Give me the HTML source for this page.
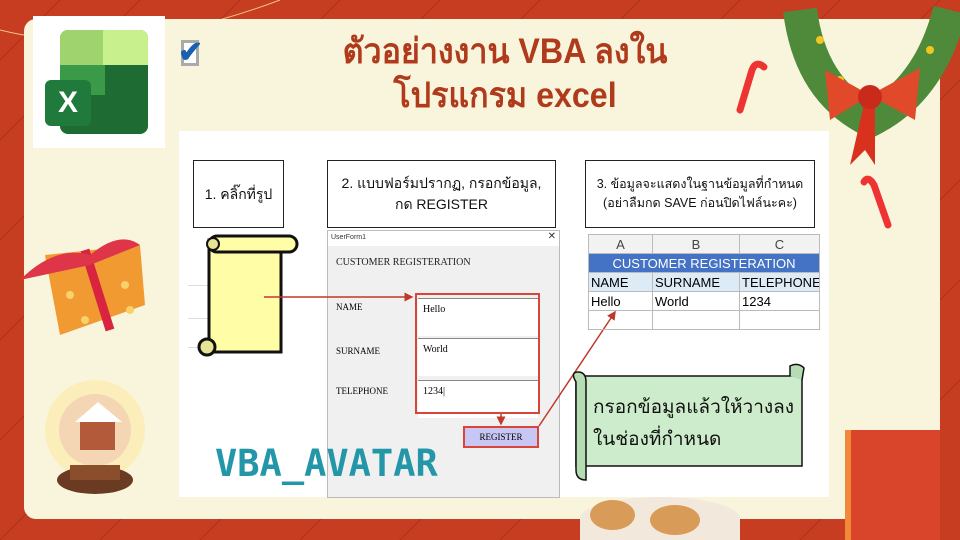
<!DOCTYPE html>
<html><head><meta charset="utf-8"><style>
*{margin:0;padding:0;box-sizing:border-box}
html,body{width:960px;height:540px;overflow:hidden}
body{background:#c63d22;position:relative;font-family:"Liberation Sans","Noto Sans CJK SC",sans-serif}
.a{position:absolute}
.box{position:absolute;background:#fff;border:1.5px solid #222;display:flex;align-items:center;justify-content:center;text-align:center;font-size:14px;color:#111;line-height:1.5}
.serif{font-family:"Liberation Serif","Noto Serif CJK SC",serif}
.inp{position:absolute;left:418px;width:120px;background:#fff;border-top:1px solid #888;font-family:"Liberation Serif",serif;font-size:10px;padding:5px}
table{border-collapse:collapse;position:absolute;left:588px;top:234px;font-size:13px;table-layout:fixed;width:231px}
td{border:1px solid #bbb;height:19px;padding:0 2px;white-space:nowrap;overflow:hidden}
</style></head><body>
<svg class="a" style="left:0;top:0" width="960" height="540">
<g stroke="#a8301a" stroke-width="1.2" opacity=".7">
<line x1="0" y1="60" x2="60" y2="0"/><line x1="0" y1="140" x2="140" y2="0"/><line x1="0" y1="240" x2="240" y2="0"/><line x1="0" y1="340" x2="340" y2="0"/><line x1="0" y1="440" x2="440" y2="0"/><line x1="0" y1="540" x2="540" y2="0"/><line x1="100" y1="540" x2="640" y2="0"/><line x1="200" y1="540" x2="740" y2="0"/><line x1="300" y1="540" x2="840" y2="0"/><line x1="400" y1="540" x2="940" y2="0"/><line x1="500" y1="540" x2="960" y2="80"/><line x1="600" y1="540" x2="960" y2="180"/><line x1="700" y1="540" x2="960" y2="280"/><line x1="800" y1="540" x2="960" y2="380"/>
</g>
<path d="M0 30 Q120 60 280 0" stroke="#f3c77a" fill="none"/>
</svg>
<div class="a" style="left:24px;top:19px;width:916px;height:500px;background:#f9f5dd;border-radius:12px"></div>
<svg class="a" style="left:780px;top:0" width="180" height="170">
<path d="M20 10 Q30 90 90 120 Q150 90 170 10" stroke="#4e8a3a" stroke-width="34" fill="none"/>
<circle cx="40" cy="40" r="4" fill="#f2c520"/><circle cx="150" cy="50" r="4" fill="#f2c520"/><circle cx="60" cy="80" r="4" fill="#f2c520"/>
<path d="M90 95 L45 70 L50 120 Z M90 95 L140 68 L135 120 Z" fill="#e04a2a"/>
<path d="M85 100 L70 165 L85 150 L95 165 L95 100Z" fill="#d8321f"/>
<circle cx="90" cy="97" r="12" fill="#c92a1a"/>
</svg>
<svg class="a" style="left:730px;top:55px" width="40" height="60"><path d="M10 55 L22 15 Q26 5 34 12" stroke="#e33" stroke-width="7" fill="none" stroke-linecap="round"/></svg>
<svg class="a" style="left:860px;top:170px" width="40" height="60"><path d="M28 55 L14 15 Q8 5 4 12" stroke="#e33" stroke-width="7" fill="none" stroke-linecap="round"/></svg>
<div class="a" style="left:845px;top:430px;width:95px;height:110px;background:#d9452a;border-left:6px solid #f08a3a"></div>
<svg class="a" style="left:15px;top:225px" width="135" height="115">
<path d="M30 30 L125 20 L130 80 L45 110 Z" fill="#f19a32"/>
<path d="M70 25 L95 105" stroke="#d8243f" stroke-width="9"/>
<path d="M5 55 Q40 20 75 30 Q105 5 125 20 L75 40 Z" fill="#de3548"/>
<g fill="#f7d16a"><circle cx="55" cy="70" r="4"/><circle cx="110" cy="60" r="4"/><circle cx="70" cy="95" r="4"/><circle cx="115" cy="85" r="4"/></g>
</svg>
<svg class="a" style="left:30px;top:380px" width="140" height="140">
<circle cx="65" cy="50" r="50" fill="#fde89a" opacity=".5"/>
<circle cx="65" cy="50" r="36" fill="#f4d6b4"/>
<rect x="50" y="40" width="35" height="30" fill="#b35a3a"/><path d="M45 42 L68 22 L92 42Z" fill="#fff"/>
<ellipse cx="65" cy="100" rx="38" ry="14" fill="#6b3a22"/><rect x="40" y="85" width="50" height="15" fill="#8a4e2c"/>
</svg>
<div class="a" style="left:580px;top:497px;width:160px;height:43px;border-radius:50% 50% 0 0;background:#f2e8dc"></div>
<div class="a" style="left:590px;top:500px;width:45px;height:30px;border-radius:50%;background:#d99b58"></div>
<div class="a" style="left:650px;top:505px;width:50px;height:30px;border-radius:50%;background:#d99b58"></div>
<div class="a" style="left:33px;top:16px;width:132px;height:132px;background:#fff"></div>
<div class="a" style="left:60px;top:30px;width:88px;height:104px;background:#1e6b34;border-radius:8px"></div>
<div class="a" style="left:60px;top:30px;width:88px;height:35px;background:#9fd36e;border-radius:8px 8px 0 0"></div>
<div class="a" style="left:103px;top:30px;width:45px;height:35px;background:#c8f08c;border-radius:0 8px 0 0"></div>
<div class="a" style="left:60px;top:65px;width:45px;height:30px;background:#3a9a48"></div>
<div class="a" style="left:45px;top:80px;width:46px;height:46px;background:#1f7a3c;border-radius:6px;color:#fff;font-weight:bold;font-size:30px;text-align:center;line-height:46px">X</div>
<div class="a" style="left:181px;top:40px;width:18px;height:26px;border:3px solid #aaa;background:#fff"></div>
<div class="a" style="left:178px;top:35px;font-size:30px;color:#1a5fb0;font-weight:bold">✔</div>
<div class="a" style="left:260px;top:30px;width:490px;text-align:center;color:#b03a1c;font-weight:bold;font-size:35px;line-height:44px;transform:scaleX(.92)">ตัวอย่างงาน VBA ลงใน<br>โปรแกรม excel</div>
<div class="a" style="left:179px;top:131px;width:650px;height:366px;background:#fff"></div>
<div class="box" style="left:193px;top:160px;width:91px;height:68px">1. คลิ๊กที่รูป</div>
<div class="box" style="left:327px;top:160px;width:229px;height:68px">2. แบบฟอร์มปรากฏ, กรอกข้อมูล,<br>กด REGISTER</div>
<div class="box" style="left:585px;top:160px;width:230px;height:68px;font-size:12.5px">3. ข้อมูลจะแสดงในฐานข้อมูลที่กำหนด<br>(อย่าลืมกด SAVE ก่อนปิดไฟล์นะคะ)</div>
<div class="a" style="left:188px;top:285px;width:95px;border-top:1px solid #ddd"></div>
<div class="a" style="left:188px;top:318px;width:95px;border-top:1px solid #ddd"></div>
<div class="a" style="left:188px;top:347px;width:95px;border-top:1px solid #ddd"></div>
<svg class="a" style="left:193px;top:232px" width="110" height="128">
<rect x="16" y="8" width="72" height="112" fill="#fffea6" stroke="#111" stroke-width="3"/>
<rect x="16" y="4" width="88" height="16" rx="8" fill="#fffea6" stroke="#111" stroke-width="3"/>
<circle cx="20" cy="12" r="6" fill="#e8e496" stroke="#111" stroke-width="2"/>
<circle cx="14" cy="115" r="8" fill="#e8e496" stroke="#111" stroke-width="3"/>
</svg>
<div class="a" style="left:327px;top:230px;width:233px;height:268px;background:#f0f0f0;border:1px solid #bbb"></div>
<div class="a" style="left:328px;top:231px;width:231px;height:15px;background:#fff;font-size:7px;padding:3px;color:#333">UserForm1<span style="float:right;font-size:10px;margin-top:-3px">✕</span></div>
<div class="a serif" style="left:336px;top:257px;font-size:10px;color:#222">CUSTOMER REGISTERATION</div>
<div class="a serif" style="left:336px;top:302px;font-size:9px">NAME</div>
<div class="a serif" style="left:336px;top:346px;font-size:9px">SURNAME</div>
<div class="a serif" style="left:336px;top:386px;font-size:9px">TELEPHONE</div>
<div class="inp" style="top:298px;height:38px">Hello</div>
<div class="inp" style="top:338px;height:38px">World</div>
<div class="inp" style="top:380px;height:38px">1234|</div>
<div class="a" style="left:415px;top:293px;width:125px;height:121px;border:2px solid #d9453a"></div>
<div class="a serif" style="left:463px;top:426px;width:76px;height:22px;background:#c7c6f4;border:2px solid #d9453a;font-size:9px;text-align:center;line-height:18px">REGISTER</div>
<svg class="a" style="left:0;top:0" width="960" height="540">
<defs><marker id="m" markerWidth="6" markerHeight="6" refX="5" refY="3" orient="auto"><path d="M0 0L6 3L0 6Z" fill="#c0392b"/></marker></defs>
<line x1="264" y1="297" x2="412" y2="297" stroke="#c0392b" stroke-width="1.5" marker-end="url(#m)"/>
<line x1="501" y1="414" x2="501" y2="424" stroke="#c0392b" stroke-width="1.5" marker-end="url(#m)"/>
<line x1="539" y1="426" x2="615" y2="312" stroke="#c0392b" stroke-width="1.5" marker-end="url(#m)"/>
</svg>
<table>
<colgroup><col style="width:64px"><col style="width:87px"><col style="width:80px"></colgroup>
<tr style="background:#f2f2f2;color:#444;text-align:center"><td>A</td><td>B</td><td>C</td></tr>
<tr><td colspan="3" style="background:#4472c4;color:#fff;text-align:center">CUSTOMER REGISTERATION</td></tr>
<tr style="background:#ddebf7"><td>NAME</td><td>SURNAME</td><td>TELEPHONE</td></tr>
<tr><td>Hello</td><td>World</td><td>1234</td></tr>
<tr><td></td><td></td><td></td></tr>
</table>
<svg class="a" style="left:568px;top:362px" width="240" height="120">
<rect x="8" y="14" width="226" height="90" fill="#cdeccb" stroke="#111" stroke-width="1.5"/>
<path d="M8 20 Q2 10 10 10 Q18 10 18 20 L18 118 Q8 118 8 108Z" fill="#b6dcb4" stroke="#111" stroke-width="1.5"/>
<path d="M222 14 L222 4 Q230 0 236 6 L234 18" fill="#b6dcb4" stroke="#111" stroke-width="1.5"/>
</svg>
<div class="a" style="left:593px;top:392px;font-size:19px;line-height:32px;color:#111">กรอกข้อมูลแล้วให้วางลง<br>ในช่องที่กำหนด</div>
<div class="a" style="left:215px;top:442px;font-family:'DejaVu Sans Mono',monospace;font-weight:bold;font-size:37px;color:#2397a8">VBA_AVATAR</div>
</body></html>
